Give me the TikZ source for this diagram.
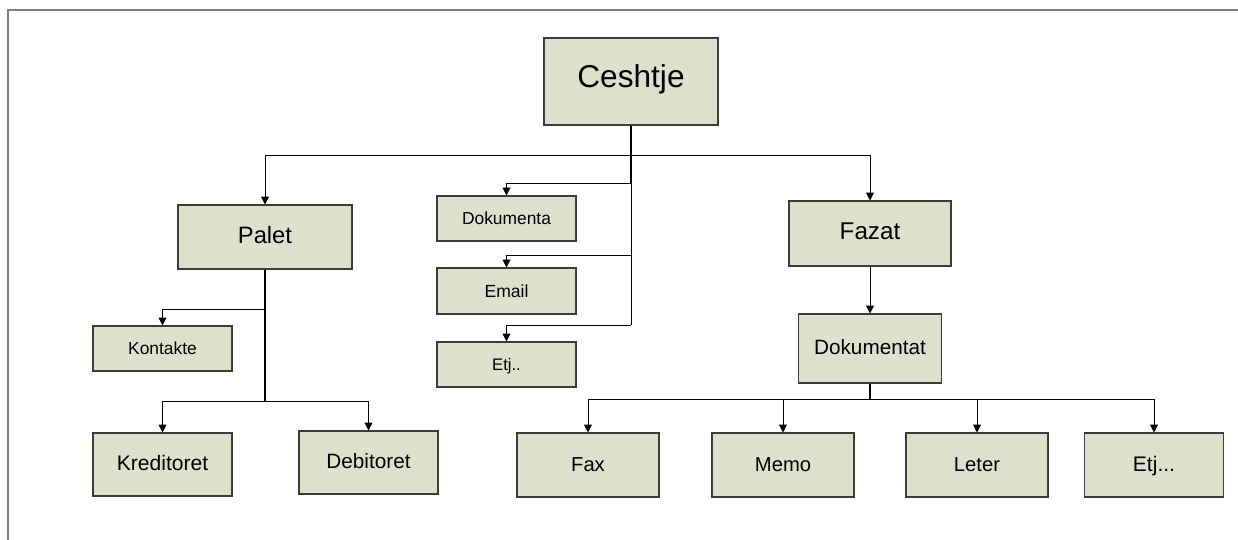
\documentclass[tikz,border=0pt]{standalone}
\usepackage{fontspec}
\setmainfont{Liberation Sans}
\usetikzlibrary{arrows.meta}
\definecolor{boxfill}{RGB}{221,225,204}
\definecolor{boxline}{RGB}{60,60,60}
\definecolor{framegray}{RGB}{128,128,128}
\tikzset{
  box/.style={draw=boxline, fill=boxfill, line width=0.6pt, inner sep=0pt,
    text height=0.72em, text depth=0em},
  link/.style={line width=0.5pt},
  trunk/.style={line width=1.1pt},
  arr/.style={link, -{Triangle[length=4.5pt,width=4.5pt]}}
}
\begin{document}
\begin{tikzpicture}[x=0.02cm,y=-0.02cm]
  \useasboundingbox (0,0) rectangle (1238,540);
  \draw[framegray, line width=0.85pt] (8,540) -- (8,10) -- (1238,10);

  \begin{scope}[every node/.style={box}]
    \node (ceshtje)    at (631,81.5)  [minimum width=3.48cm, minimum height=1.74cm, font=\fontsize{18}{20}\selectfont] {Ceshtje};
    \node (palet)      at (265,237)   [minimum width=3.48cm, minimum height=1.28cm, font=\fontsize{13.5}{15}\selectfont] {Palet};
    \node (fazat)      at (870,233.5) [minimum width=3.24cm, minimum height=1.30cm, font=\fontsize{13.8}{15}\selectfont] {Fazat};
    \node (dokumentat) at (870,348.5) [minimum width=2.86cm, minimum height=1.38cm, font=\fontsize{11.8}{13}\selectfont] {Dokumentat};
    \node (kontakte)   at (162.5,348.5) [minimum width=2.78cm, minimum height=0.90cm, font=\fontsize{9.9}{11}\selectfont] {Kontakte};
    \node (dokumenta)  at (506.5,218.5) [minimum width=2.78cm, minimum height=0.90cm, font=\fontsize{9.9}{11}\selectfont] {Dokumenta};
    \node (email)      at (506.5,291)   [minimum width=2.78cm, minimum height=0.92cm, font=\fontsize{10}{11}\selectfont] {Email};
    \node (etjA)       at (506.5,364.5) [minimum width=2.78cm, minimum height=0.90cm, font=\fontsize{9.5}{11}\selectfont] {Etj..};
    \node (kreditoret) at (162.5,464.5) [minimum width=2.78cm, minimum height=1.26cm, font=\fontsize{12}{13}\selectfont] {Kreditoret};
    \node (debitoret)  at (368.5,462.5) [minimum width=2.78cm, minimum height=1.26cm, font=\fontsize{11.8}{13}\selectfont] {Debitoret};
    \node (fax)        at (588,465)  [minimum width=2.84cm, minimum height=1.28cm, font=\fontsize{11.5}{13}\selectfont] {Fax};
    \node (memo)       at (783,465)  [minimum width=2.84cm, minimum height=1.28cm, font=\fontsize{11.5}{13}\selectfont] {Memo};
    \node (leter)      at (977,465)  [minimum width=2.84cm, minimum height=1.28cm, font=\fontsize{11.5}{13}\selectfont] {Leter};
    \node (etjB)       at (1154,465) [minimum width=2.78cm, minimum height=1.28cm, font=\fontsize{12}{13}\selectfont] {Etj...};
  \end{scope}

  % junctions
  \coordinate (jtop) at (631,155);
  \coordinate (jdok) at (631,183);
  \coordinate (jema) at (631,255);
  \coordinate (jetj) at (631,325);
  \coordinate (jkon) at (265,309);
  \coordinate (jkre) at (265,401);
  \coordinate (jfax) at (870,399);

  % main trunk
  \draw[trunk] (ceshtje.south) -- (jdok);
  \draw[link] (jdok) -- (jetj);
  \draw[arr] (jtop) -| (palet.north);
  \draw[arr] (jtop) -| (fazat.north);
  \draw[arr] (jdok) -| (dokumenta.north);
  \draw[arr] (jema) -| (email.north);
  \draw[arr] (jetj) -| (etjA.north);

  % palet
  \draw[trunk] (palet.south) -- (jkre);
  \draw[arr] (jkon) -| (kontakte.north);
  \draw[arr] (jkre) -| (kreditoret.north);
  \draw[arr] (jkre) -| (debitoret.north);

  % fazat
  \draw[arr] (fazat.south) -- (dokumentat.north);
  \draw[trunk] (dokumentat.south) -- (jfax);
  \draw[arr] (jfax) -| (fax.north);
  \draw[arr] (jfax) -| (memo.north);
  \draw[arr] (jfax) -| (leter.north);
  \draw[arr] (jfax) -| (etjB.north);
\end{tikzpicture}
\end{document}
